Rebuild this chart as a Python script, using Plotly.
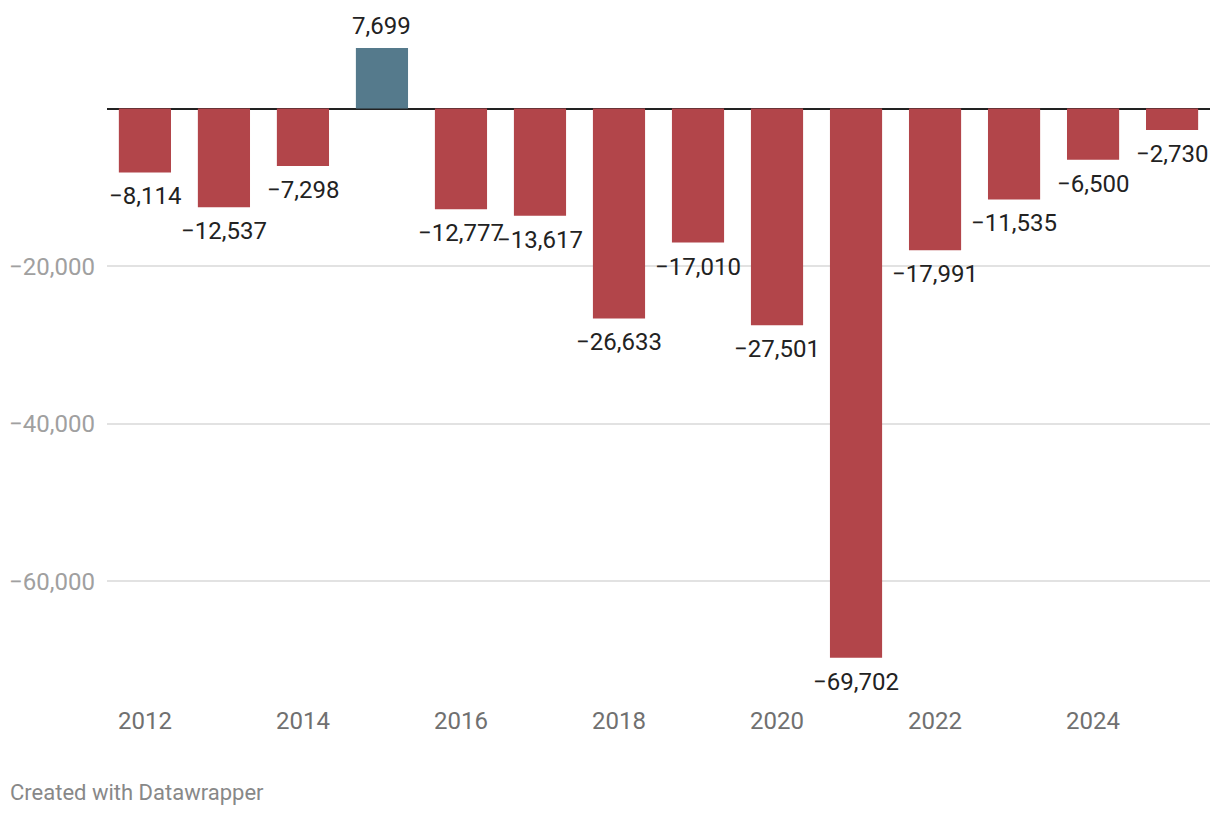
import plotly.graph_objects as go

years = list(range(2012, 2026))
values = [-8114, -12537, -7298, 7699, -12777, -13617, -26633, -17010, -27501, -69702, -17991, -11535, -6500, -2730]
xtick_vals = [2012, 2014, 2016, 2018, 2020, 2022, 2024]
ytick_vals = [-60000, -40000, -20000]

RED = "#b2454a"
BLUE = "#557a8c"
colors = [BLUE if v > 0 else RED for v in values]

def fmt(v):
    return f"{v:,}".replace("-", "\u2212")

fig = go.Figure()
fig.add_trace(go.Bar(x=years, y=values, marker=dict(color=colors, line=dict(width=0)),
                     width=0.66, hoverinfo="skip"))

annotations = []
for yr, v in zip(years, values):
    annotations.append(dict(
        x=yr, y=v, xref="x", yref="y", text=fmt(v), showarrow=False,
        yshift=(22 if v > 0 else -24),
        font=dict(family="Roboto", size=24, color="#222222"),
    ))
annotations.append(dict(
    x=0, y=0, xref="paper", yref="paper", xanchor="left", yanchor="top",
    xshift=-99, yshift=-80, text="Created with Datawrapper", showarrow=False,
    font=dict(family="Roboto", size=22, color="#888888"),
))

fig.update_layout(
    width=1204, height=800,
    margin=dict(l=99, r=2, t=0, b=110),
    paper_bgcolor="white", plot_bgcolor="white",
    showlegend=False,
    annotations=annotations,
    xaxis=dict(
        range=[2011.52, 2025.48], tickvals=xtick_vals, ticktext=[str(t) for t in xtick_vals],
        showgrid=False, zeroline=False, showline=False, ticks="",
        tickfont=dict(family="Roboto", size=24, color="#707070"),
        ticklabelstandoff=6, fixedrange=True,
    ),
    yaxis=dict(
        range=[-74810, 12761], tickvals=ytick_vals, tickformat=",",
        showgrid=True, gridcolor="#e2e2e2", gridwidth=2,
        zeroline=True, zerolinecolor="#222222", zerolinewidth=2,
        showline=False, ticks="",
        tickfont=dict(family="Roboto", size=24, color="#a0a0a0"),
        ticklabelstandoff=11, fixedrange=True,
    ),
)

fig.write_html("out.html")
